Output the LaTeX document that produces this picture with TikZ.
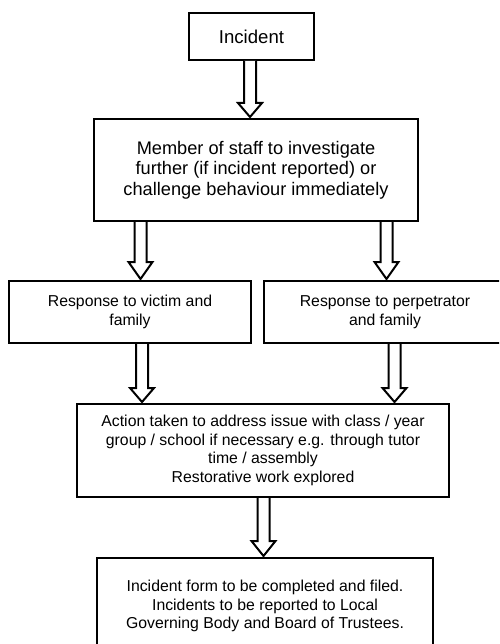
\documentclass[tikz,border=0pt]{standalone}
\usepackage{fontspec}
\setmainfont{Liberation Sans}
\usetikzlibrary{calc}
\tikzset{
  box/.style={draw=black, line width=2pt, inner sep=0pt, align=center, fill=white},
  bastyle/.style={draw=black, line width=2pt, line join=miter, fill=white},
  smalltext/.style={font=\fontsize{15.8}{18.8}\selectfont},
  bigtext/.style={font=\fontsize{18.2}{20.7}\selectfont}
}
% #1 x position, #2 from node, #3 to node, #4 head length
\newcommand\barrow[4]{\draw[bastyle] let \p1=(#2.south), \p2=(#3.north), \p3=(#1,0) in
  (\x3-6pt,\y1) -- (\x3-6pt,\y2+#4pt) -- (\x3-12pt,\y2+#4pt) -- (\x3,\y2+1pt)
  -- (\x3+12pt,\y2+#4pt) -- (\x3+6pt,\y2+#4pt) -- (\x3+6pt,\y1);}
\begin{document}
\begin{tikzpicture}[x=1pt,y=-1pt]
\useasboundingbox (0,0) rectangle (499,644);
\clip (0,0) rectangle (499,644);
\node[box, font=\fontsize{18.6}{21}\selectfont, minimum width=125pt, minimum height=47pt] (inc) at (251.5,36.5) {Incident};
\node[box, bigtext, minimum width=324pt, minimum height=102pt] (mem) at (256,170) {Member of staff to investigate\\further (if incident reported) or\\challenge behaviour immediately};
\node[box, smalltext, minimum width=242pt, minimum height=62pt] (vic) at (130,312) {Response to victim and\\family};
\node[box, smalltext, minimum width=242pt, minimum height=62pt] (per) at (385,312) {Response to perpetrator\\and family};
\node[box, smalltext, minimum width=372pt, minimum height=93pt] (act) at (263,450.5) {Action taken to address issue with class / year\\group / school if necessary e.g. through tutor\\time / assembly\\Restorative work explored};
\node[box, smalltext, minimum width=336pt, minimum height=96pt] (fin) at (265,606) {Incident form to be completed and filed.\\Incidents to be reported to Local\\Governing Body and Board of Trustees.};
\barrow{250}{inc}{mem}{15}
\barrow{140.5}{mem}{vic}{18}
\barrow{386.5}{mem}{per}{18}
\barrow{142}{vic}{act}{15}
\barrow{394.5}{per}{act}{15}
\barrow{263.5}{act}{fin}{16}
\end{tikzpicture}
\end{document}
